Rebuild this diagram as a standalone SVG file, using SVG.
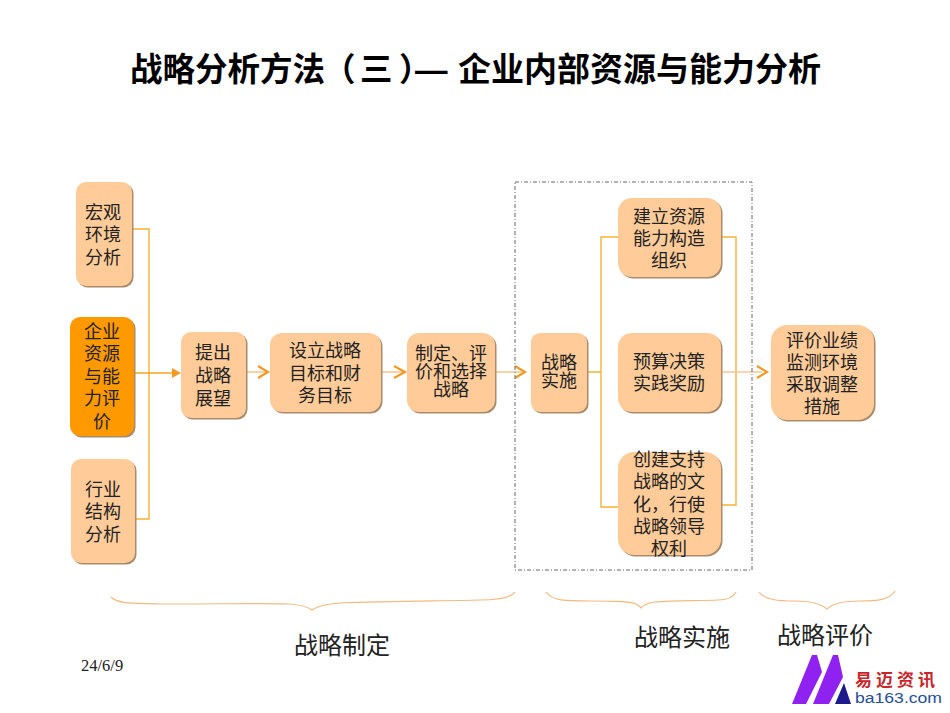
<svg xmlns="http://www.w3.org/2000/svg" width="950" height="713" viewBox="0 0 950 713">
<style>
text{font-family:"Liberation Serif","Noto Sans CJK SC",serif;fill:#222}
.n{font-size:18px;text-anchor:middle}
.s{fill:#a98a6b}
.b{fill:#ffcc99}
.o{fill:#ff9900}
.c{fill:none;stroke:#f5b335;stroke-width:1.4}
.a{fill:none;stroke:#f9c78f;stroke-width:1.6}
.h{fill:none;stroke:#f29a26;stroke-width:2.2}
.br{fill:none;stroke:#f3ba80;stroke-width:1.2}
.l{font-size:24px;text-anchor:middle}
.t{font-size:32.500px;font-weight:bold;font-family:"Liberation Sans","Noto Sans CJK SC",sans-serif;fill:#000}
</style>
<rect width="950" height="713" fill="#fff"/>
<text class="t" y="81"><tspan x="130">战略分析方法</tspan><tspan x="323">（</tspan><tspan x="360">三</tspan><tspan x="399">）</tspan><tspan x="415">—</tspan><tspan x="458" font-size="33">企业内部资源与能力分析</tspan></text>
<g id="connectors">
<path class="c" d="M133 229H149V519H135"/>
<path d="M134 373H172" fill="none" stroke="#f5a623" stroke-width="1.6"/>
<path d="M172 368L181 373L172 378Z" fill="#f29a26"/>
<path class="a" d="M246 372H266"/><path class="h" d="M258 366L268 372L258 378"/>
<path class="a" d="M381 372H403"/><path class="h" d="M394 366L405 372L394 378"/>
<path class="a" d="M495 372H522"/><path class="h" d="M515 366L525 372L515 378"/>
<path class="c" d="M587 372H601M618 237H601V507H618M721 237H736V505H721"/>
<path class="a" d="M721 372H762"/><path class="h" d="M757 366L767 372L757 378"/>
<rect x="515" y="182" width="237" height="388" fill="none" stroke="#666" stroke-width="1" stroke-dasharray="4 2 1 2"/>
<path class="br" d="M111 597C118 604 132 603 160 604C220 604 270 603 290 604C302 605 308 607 312 610C316 607 325 604 340 603C390 601 440 601 480 600C500 600 511 598 515 592"/>
<path class="br" d="M546 592C552 601 566 601 590 601C612 601 630 601 636 604C638 605 640 606 641 608C643 605 648 603 655 602C672 600 700 601 718 600C729 600 734 596 736 592"/>
<path class="br" d="M759 592C765 600 778 601 795 601C810 601 820 603 827 609C833 603 845 601 860 601C878 601 889 600 895 591"/>
</g>
<g id="n1"><rect class="s" x="77.500" y="183.500" width="56" height="104" rx="10"/><rect class="b" x="76" y="182" width="56" height="104" rx="10"/><text class="n" x="103" y="219">宏观</text><text class="n" x="103" y="241">环境</text><text class="n" x="103" y="264">分析</text></g>
<g id="n2"><rect class="s" x="71.500" y="318.500" width="64" height="119" rx="10"/><rect class="o" x="70" y="317" width="64" height="119" rx="10"/><text class="n" x="102" y="338">企业</text><text class="n" x="102" y="360">资源</text><text class="n" x="102" y="383">与能</text><text class="n" x="102" y="405">力评</text><text class="n" x="102" y="428">价</text></g>
<g id="n3"><rect class="s" x="72.500" y="460.500" width="64" height="104" rx="10"/><rect class="b" x="71" y="459" width="64" height="104" rx="10"/><text class="n" x="103" y="496">行业</text><text class="n" x="103" y="518">结构</text><text class="n" x="103" y="541">分析</text></g>
<g id="n4"><rect class="s" x="182.500" y="333.500" width="65" height="86" rx="10"/><rect class="b" x="181" y="332" width="65" height="86" rx="10"/><text class="n" x="213" y="359">提出</text><text class="n" x="213" y="382">战略</text><text class="n" x="213" y="405">展望</text></g>
<g id="n5"><rect class="s" x="271.500" y="334.500" width="111" height="79" rx="12"/><rect class="b" x="270" y="333" width="111" height="79" rx="12"/><text class="n" x="325" y="357">设立战略</text><text class="n" x="325" y="380">目标和财</text><text class="n" x="325" y="402">务目标</text></g>
<g id="n6"><rect class="s" x="408.500" y="334.500" width="88" height="79" rx="12"/><rect class="b" x="407" y="333" width="88" height="79" rx="12"/><text class="n"><tspan x="451" y="360">制定、评</tspan><tspan x="451" y="378">价和选择</tspan><tspan x="451" y="396">战略</tspan></text></g>
<g id="n7"><rect class="s" x="532.500" y="334.500" width="56" height="79" rx="9"/><rect class="b" x="531" y="333" width="56" height="79" rx="9"/><text class="n"><tspan x="559" y="369">战略</tspan><tspan x="559" y="387">实施</tspan></text></g>
<g id="n8"><rect class="s" x="619.500" y="199.500" width="103" height="79" rx="14"/><rect class="b" x="618" y="198" width="103" height="79" rx="14"/><text class="n" x="669" y="223">建立资源</text><text class="n" x="669" y="245">能力构造</text><text class="n" x="669" y="267">组织</text></g>
<g id="n9"><rect class="s" x="619.500" y="334.500" width="103" height="79" rx="14"/><rect class="b" x="618" y="333" width="103" height="79" rx="14"/><text class="n" x="669" y="368">预算决策</text><text class="n" x="669" y="390">实践奖励</text></g>
<g id="n10"><rect class="s" x="619.500" y="453.500" width="103" height="103" rx="16"/><rect class="b" x="618" y="452" width="103" height="103" rx="16"/><text class="n" x="669" y="466">创建支持</text><text class="n" x="669" y="488">战略的文</text><text class="n" x="669" y="511">化，行使</text><text class="n" x="669" y="533">战略领导</text><text class="n" x="669" y="555">权利</text></g>
<g id="n11"><rect class="s" x="772.500" y="326.500" width="103" height="95" rx="16"/><rect class="b" x="771" y="325" width="103" height="95" rx="16"/><text class="n" x="822" y="347">评价业绩</text><text class="n" x="822" y="369">监测环境</text><text class="n" x="822" y="391">采取调整</text><text class="n" x="822" y="413">措施</text></g>
<text class="l" x="342" y="654">战略制定</text>
<text class="l" x="682" y="646">战略实施</text>
<text class="l" x="825" y="644">战略评价</text>
<text x="81" y="671" font-size="16.500">24/6/9</text>
<g id="logo">
<path d="M792 704L812 655H817L822 672L806 704Z" fill="#8f22f0"/>
<path d="M813 704L833 655H838L843 677L829 704Z" fill="#8f22f0"/>
<path d="M835 704L844 683L851 704Z" fill="#1d1a8c"/>
<text x="855" y="686" font-size="17" font-weight="bold" style="fill:#c8252b" letter-spacing="4">易迈资讯</text>
<text x="855" y="703" font-size="14" style="fill:#1f4e99;font-family:'Liberation Sans',sans-serif" textLength="87" lengthAdjust="spacingAndGlyphs">ba163.com</text>
</g>
</svg>
